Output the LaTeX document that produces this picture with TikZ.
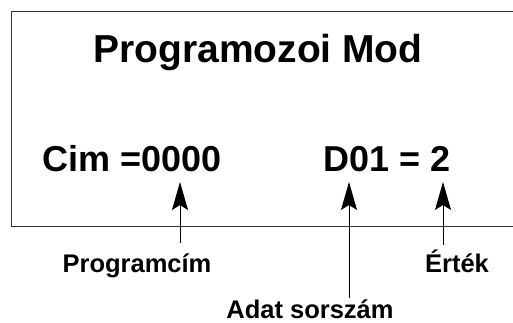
\documentclass[tikz,border=0pt]{standalone}
\usepackage{fontspec}
\setmainfont{Liberation Sans}
\usetikzlibrary{positioning, arrows.meta}

\begin{document}
\begin{tikzpicture}[x=1pt, y=1pt,
    bigtext/.style={font=\bfseries\fontsize{39}{42}\selectfont, inner sep=0pt},
    valtext/.style={font=\bfseries\fontsize{36}{40}\selectfont, inner sep=0pt},
    labeltext/.style={font=\bfseries\fontsize{25.5}{29}\selectfont, inner sep=0pt},
    pointer/.style={-{Stealth[length=28pt, width=16pt, inset=5pt]}, line width=1pt}
]
\useasboundingbox (0,0) rectangle (513,323);
\clip (0,0) rectangle (513,323);
\draw[line width=1pt, black!80] (11.5,96) rectangle (530,311);
\node[bigtext, anchor=base](title) at (258,260){Programozoi Mod};
\node[valtext, anchor=base west](cim) at (42,151){Cim =0000};
\node[valtext, anchor=base west](data) at (323,151){D01 = 2};
% labels under the box
\node[labeltext, anchor=base](prog) at (137,50){Programcím};
\node[labeltext, anchor=base](ertek) at (457,50){Érték};
\node[labeltext, anchor=base](sorsz) at (310,4){Adat sorszám};
\coordinate (tipa) at (180,141);
\coordinate (tipb) at (349,141);
\coordinate (tipc) at (443,141);
\draw[pointer] (tipa |- 0,80) -- (tipa);
\draw[pointer] (tipb |- 0,25) -- (tipb);
\draw[pointer] (tipc |- 0,78) -- (tipc);
\end{tikzpicture}
\end{document}
